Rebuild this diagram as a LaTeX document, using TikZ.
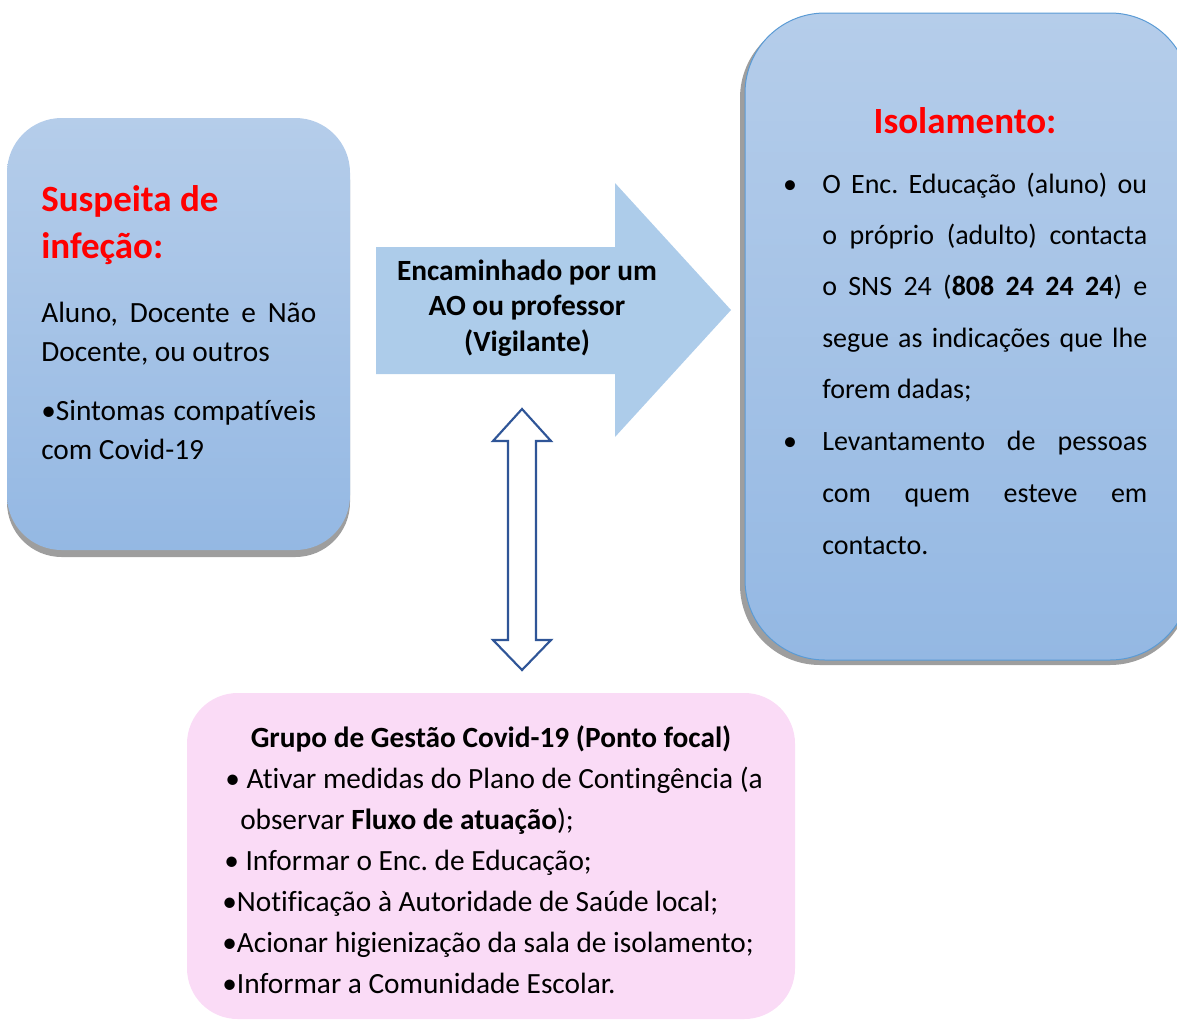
\documentclass[tikz,border=0pt]{standalone}
\usepackage{fontspec}
\setmainfont{Carlito}[Ligatures={NoCommon}]
\frenchspacing
\definecolor{boxtop}{RGB}{181,205,234}
\definecolor{boxbot}{RGB}{148,184,227}
\definecolor{arrowfill}{RGB}{173,204,234}
\definecolor{pinkfill}{RGB}{250,219,246}
\definecolor{darkblue}{RGB}{47,85,151}
\definecolor{edgeblue}{RGB}{91,155,213}
\definecolor{shadowgray}{RGB}{158,158,158}
\newcommand\jline[2]{\makebox[#1pt][s]{#2}}
\tikzset{
  ttl/.style={font=\fontsize{27.75}{30}\selectfont\bfseries, text=red, inner sep=0pt},
  lbody/.style={font=\fontsize{22}{26}\selectfont, inner sep=0pt, anchor=base west},
  rbody/.style={font=\fontsize{21}{25}\selectfont, inner sep=0pt, anchor=base west},
  abody/.style={font=\fontsize{22}{26}\selectfont\bfseries, inner sep=0pt, anchor=base},
  bbody/.style={font=\fontsize{22}{26}\selectfont, inner sep=0pt, anchor=base west},
  rbullet/.style={font=\fontsize{21}{25}\selectfont, inner sep=0pt, anchor=base},
}
\begin{document}
\begin{tikzpicture}[x=0.75pt,y=-0.75pt]
\useasboundingbox (0,0) rectangle (1177,1021);
\clip (0,0) rectangle (1177,1021);

% left box
\fill[shadowgray, rounded corners=41pt] (7,125) rectangle (350,557);
\shade[top color=boxtop, bottom color=boxbot, rounded corners=41pt] (7,118) rectangle (350,550);

% right box
\fill[shadowgray, rounded corners=60pt] (740,18) rectangle (1190,665);
\shade[top color=boxtop, bottom color=boxbot, rounded corners=60pt] (745,13) rectangle (1190,660);
\draw[edgeblue, line width=0.75pt, rounded corners=60pt] (745,13) rectangle (1190,660);

% bottom box
\fill[pinkfill, rounded corners=38pt] (187,693) rectangle (795,1019);

% middle block arrow
\fill[arrowfill] (376,247) -- (615,247) -- (615,183) -- (731,310) -- (615,437) -- (615,374) -- (376,374) -- cycle;

% double arrow
\draw[darkblue, fill=white, line width=1.6pt, line join=miter]
  (522,409) -- (551,441) -- (536,441) -- (536,640) -- (551,640) -- (522,670)
  -- (493,640) -- (508,640) -- (508,441) -- (493,441) -- cycle;

% left box text
\node[ttl, anchor=base west] (lt1) at (41,211) {Suspeita de};
\node[ttl, anchor=base west] (lt2) at (41,258) {infeção:};
\node[lbody] (lb1) at (41,322) {\jline{206.25}{Aluno, Docente e Não}};
\node[lbody] (lb2) at (41,361) {Docente, ou outros};
\node[lbody] (lb3) at (41,420) {\jline{206.25}{•Sintomas compatíveis}};
\node[lbody] (lb4) at (41,459) {com Covid-19};

% arrow text
\node[abody] (a1) at (527,280) {Encaminhado por um};
\node[abody] (a2) at (527,315) {AO ou professor};
\node[abody] (a3) at (527,351) {(Vigilante)};

% right box text
\node[ttl, anchor=base] (rt) at (965,133) {Isolamento:};
\node[rbullet] (rb1) at (790,193) {•};
\node[rbody] (r1) at (822,193) {\jline{243.75}{O Enc. Educação (aluno) ou}};
\node[rbody] (r2) at (822,244) {\jline{243.75}{o próprio (adulto) contacta}};
\node[rbody] (r3) at (822,295) {\jline{243.75}{o SNS 24 (\textbf{808 24 24 24}) e}};
\node[rbody] (r4) at (822,347) {\jline{243.75}{segue as indicações que lhe}};
\node[rbody] (r5) at (822,398) {forem dadas;};
\node[rbullet] (rb2) at (790,450) {•};
\node[rbody] (r6) at (822,450) {\jline{243.75}{Levantamento de pessoas}};
\node[rbody] (r7) at (822,502) {\jline{243.75}{com quem esteve em}};
\node[rbody] (r8) at (822,554) {contacto.};

% bottom box text
\node[abody] (bt) at (491,747) {Grupo de Gestão Covid-19 (Ponto focal)};
\node[bbody] (b1) at (225,788) {• Ativar medidas do Plano de Contingência (a};
\node[bbody] (b2) at (240,829) {observar \textbf{Fluxo de atuação});};
\node[bbody] (b3) at (224,870) {• Informar o Enc. de Educação;};
\node[bbody] (b4) at (222,911) {•Notificação à Autoridade de Saúde local;};
\node[bbody] (b5) at (222,952) {•Acionar higienização da sala de isolamento;};
\node[bbody] (b6) at (222,993) {•Informar a Comunidade Escolar.};
\end{tikzpicture}
\end{document}
